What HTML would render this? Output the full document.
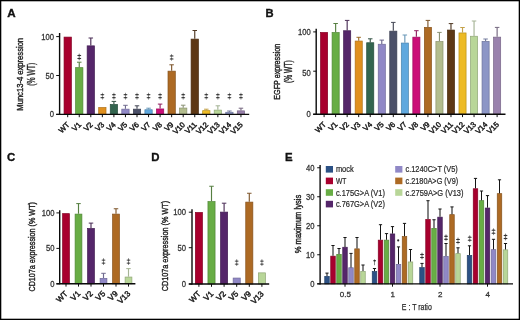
<!DOCTYPE html>
<html><head><meta charset="utf-8"><style>
html,body{margin:0;padding:0;background:#fff;}
body{width:520px;height:320px;overflow:hidden;}
svg{display:block;font-family:"Liberation Sans", sans-serif;will-change:transform;}
</style></head><body>
<svg width="520" height="320" viewBox="0 0 520 320">
<rect x="0" y="0" width="520" height="320" fill="#fff"/>
<text x="7.20" y="16.50" font-size="11.6" text-anchor="start" font-weight="bold" fill="#111" stroke="#111" stroke-width="0.35">A</text>
<text x="0" y="0" font-size="9.8" text-anchor="middle" fill="#222" stroke="#222" stroke-width="0.4" textLength="72.80" lengthAdjust="spacingAndGlyphs" transform="translate(23.40,74.30) rotate(-90)">Munc13-4 expression</text>
<text x="0" y="0" font-size="10.4" text-anchor="middle" fill="#222" stroke="#222" stroke-width="0.4" textLength="23.00" lengthAdjust="spacingAndGlyphs" transform="translate(34.60,74.30) rotate(-90)">(% WT)</text>
<text x="54.10" y="39.60" font-size="8.6" text-anchor="end" font-weight="normal" fill="#333" textLength="12.75" lengthAdjust="spacingAndGlyphs" stroke="#333" stroke-width="0.28">100</text>
<line x1="56.20" y1="36.60" x2="59.60" y2="36.60" stroke="#111" stroke-width="1"/>
<text x="54.10" y="78.50" font-size="8.6" text-anchor="end" font-weight="normal" fill="#333" textLength="8.50" lengthAdjust="spacingAndGlyphs" stroke="#333" stroke-width="0.28">50</text>
<line x1="56.20" y1="75.50" x2="59.60" y2="75.50" stroke="#111" stroke-width="1"/>
<text x="54.10" y="117.40" font-size="8.6" text-anchor="end" font-weight="normal" fill="#333" textLength="4.25" lengthAdjust="spacingAndGlyphs" stroke="#333" stroke-width="0.28">0</text>
<line x1="56.20" y1="114.40" x2="59.60" y2="114.40" stroke="#111" stroke-width="1"/>
<rect x="64.05" y="37.10" width="7.30" height="77.30" fill="#A8002E" stroke="#830023" stroke-width="0.7"/>
<line x1="67.70" y1="114.40" x2="67.70" y2="117.20" stroke="#111" stroke-width="1"/>
<text x="0" y="0" font-size="7.6" text-anchor="end" fill="#222" stroke="#222" stroke-width="0.45" transform="translate(70.10,125.20) rotate(-45)">WT</text>
<rect x="75.60" y="67.65" width="7.30" height="46.75" fill="#68AD45" stroke="#518635" stroke-width="0.7"/>
<line x1="79.25" y1="62.20" x2="79.25" y2="67.30" stroke="#567f41" stroke-width="1.15"/>
<line x1="77.00" y1="62.20" x2="81.50" y2="62.20" stroke="#567f41" stroke-width="1.0"/>
<line x1="79.25" y1="114.40" x2="79.25" y2="117.20" stroke="#111" stroke-width="1"/>
<line x1="79.25" y1="53.60" x2="79.25" y2="60.40" stroke="#333333" stroke-width="0.7" opacity="0.8"/>
<ellipse cx="79.25" cy="55.50" rx="2.05" ry="0.65" fill="#333333"/>
<ellipse cx="79.25" cy="58.50" rx="2.05" ry="0.65" fill="#333333"/>
<text x="0" y="0" font-size="7.6" text-anchor="end" fill="#222" stroke="#222" stroke-width="0.45" transform="translate(81.65,125.20) rotate(-45)">V1</text>
<rect x="87.15" y="45.85" width="7.30" height="68.55" fill="#55266A" stroke="#421d52" stroke-width="0.7"/>
<line x1="90.80" y1="38.00" x2="90.80" y2="45.50" stroke="#4b2e57" stroke-width="1.15"/>
<line x1="88.55" y1="38.00" x2="93.05" y2="38.00" stroke="#4b2e57" stroke-width="1.0"/>
<line x1="90.80" y1="114.40" x2="90.80" y2="117.20" stroke="#111" stroke-width="1"/>
<text x="0" y="0" font-size="7.6" text-anchor="end" fill="#222" stroke="#222" stroke-width="0.45" transform="translate(93.20,125.20) rotate(-45)">V2</text>
<rect x="98.70" y="107.55" width="7.30" height="6.85" fill="#E0901E" stroke="#ae7017" stroke-width="0.7"/>
<line x1="102.35" y1="114.40" x2="102.35" y2="117.20" stroke="#111" stroke-width="1"/>
<line x1="102.35" y1="92.80" x2="102.35" y2="99.60" stroke="#333333" stroke-width="0.7" opacity="0.8"/>
<ellipse cx="102.35" cy="94.70" rx="2.05" ry="0.65" fill="#333333"/>
<ellipse cx="102.35" cy="97.70" rx="2.05" ry="0.65" fill="#333333"/>
<text x="0" y="0" font-size="7.6" text-anchor="end" fill="#222" stroke="#222" stroke-width="0.45" transform="translate(104.75,125.20) rotate(-45)">V3</text>
<rect x="110.25" y="104.45" width="7.30" height="9.95" fill="#33654F" stroke="#274e3d" stroke-width="0.7"/>
<line x1="113.90" y1="101.40" x2="113.90" y2="104.10" stroke="#365447" stroke-width="1.15"/>
<line x1="111.65" y1="101.40" x2="116.15" y2="101.40" stroke="#365447" stroke-width="1.0"/>
<line x1="113.90" y1="114.40" x2="113.90" y2="117.20" stroke="#111" stroke-width="1"/>
<line x1="113.90" y1="92.80" x2="113.90" y2="99.60" stroke="#333333" stroke-width="0.7" opacity="0.8"/>
<ellipse cx="113.90" cy="94.70" rx="2.05" ry="0.65" fill="#333333"/>
<ellipse cx="113.90" cy="97.70" rx="2.05" ry="0.65" fill="#333333"/>
<text x="0" y="0" font-size="7.6" text-anchor="end" fill="#222" stroke="#222" stroke-width="0.45" transform="translate(116.30,125.20) rotate(-45)">V4</text>
<rect x="121.80" y="109.15" width="7.30" height="5.25" fill="#9088C6" stroke="#706a9a" stroke-width="0.7"/>
<line x1="125.45" y1="105.30" x2="125.45" y2="108.80" stroke="#6e698e" stroke-width="1.15"/>
<line x1="123.20" y1="105.30" x2="127.70" y2="105.30" stroke="#6e698e" stroke-width="1.0"/>
<line x1="125.45" y1="114.40" x2="125.45" y2="117.20" stroke="#111" stroke-width="1"/>
<line x1="125.45" y1="92.80" x2="125.45" y2="99.60" stroke="#333333" stroke-width="0.7" opacity="0.8"/>
<ellipse cx="125.45" cy="94.70" rx="2.05" ry="0.65" fill="#333333"/>
<ellipse cx="125.45" cy="97.70" rx="2.05" ry="0.65" fill="#333333"/>
<text x="0" y="0" font-size="7.6" text-anchor="end" fill="#222" stroke="#222" stroke-width="0.45" transform="translate(127.85,125.20) rotate(-45)">V5</text>
<rect x="133.35" y="109.15" width="7.30" height="5.25" fill="#4B5068" stroke="#3a3e51" stroke-width="0.7"/>
<line x1="137.00" y1="105.80" x2="137.00" y2="108.80" stroke="#454856" stroke-width="1.15"/>
<line x1="134.75" y1="105.80" x2="139.25" y2="105.80" stroke="#454856" stroke-width="1.0"/>
<line x1="137.00" y1="114.40" x2="137.00" y2="117.20" stroke="#111" stroke-width="1"/>
<line x1="137.00" y1="92.80" x2="137.00" y2="99.60" stroke="#333333" stroke-width="0.7" opacity="0.8"/>
<ellipse cx="137.00" cy="94.70" rx="2.05" ry="0.65" fill="#333333"/>
<ellipse cx="137.00" cy="97.70" rx="2.05" ry="0.65" fill="#333333"/>
<text x="0" y="0" font-size="7.6" text-anchor="end" fill="#222" stroke="#222" stroke-width="0.45" transform="translate(139.40,125.20) rotate(-45)">V6</text>
<rect x="144.90" y="109.75" width="7.30" height="4.65" fill="#5FA8DE" stroke="#4a83ad" stroke-width="0.7"/>
<line x1="148.55" y1="108.20" x2="148.55" y2="109.40" stroke="#6A98B8" stroke-width="1.15"/>
<line x1="146.30" y1="108.20" x2="150.80" y2="108.20" stroke="#6A98B8" stroke-width="1.0"/>
<line x1="148.55" y1="114.40" x2="148.55" y2="117.20" stroke="#111" stroke-width="1"/>
<line x1="148.55" y1="92.80" x2="148.55" y2="99.60" stroke="#333333" stroke-width="0.7" opacity="0.8"/>
<ellipse cx="148.55" cy="94.70" rx="2.05" ry="0.65" fill="#333333"/>
<ellipse cx="148.55" cy="97.70" rx="2.05" ry="0.65" fill="#333333"/>
<text x="0" y="0" font-size="7.6" text-anchor="end" fill="#222" stroke="#222" stroke-width="0.45" transform="translate(150.95,125.20) rotate(-45)">V7</text>
<rect x="156.45" y="108.95" width="7.30" height="5.45" fill="#CB0E78" stroke="#9e0a5d" stroke-width="0.7"/>
<line x1="160.10" y1="104.10" x2="160.10" y2="108.60" stroke="#912060" stroke-width="1.15"/>
<line x1="157.85" y1="104.10" x2="162.35" y2="104.10" stroke="#912060" stroke-width="1.0"/>
<line x1="160.10" y1="114.40" x2="160.10" y2="117.20" stroke="#111" stroke-width="1"/>
<line x1="160.10" y1="92.80" x2="160.10" y2="99.60" stroke="#333333" stroke-width="0.7" opacity="0.8"/>
<ellipse cx="160.10" cy="94.70" rx="2.05" ry="0.65" fill="#333333"/>
<ellipse cx="160.10" cy="97.70" rx="2.05" ry="0.65" fill="#333333"/>
<text x="0" y="0" font-size="7.6" text-anchor="end" fill="#222" stroke="#222" stroke-width="0.45" transform="translate(162.50,125.20) rotate(-45)">V8</text>
<rect x="168.00" y="71.15" width="7.30" height="43.25" fill="#AD6A24" stroke="#86521c" stroke-width="0.7"/>
<line x1="171.65" y1="64.80" x2="171.65" y2="70.80" stroke="#7f572d" stroke-width="1.15"/>
<line x1="169.40" y1="64.80" x2="173.90" y2="64.80" stroke="#7f572d" stroke-width="1.0"/>
<line x1="171.65" y1="114.40" x2="171.65" y2="117.20" stroke="#111" stroke-width="1"/>
<line x1="171.65" y1="54.00" x2="171.65" y2="60.80" stroke="#333333" stroke-width="0.7" opacity="0.8"/>
<ellipse cx="171.65" cy="55.90" rx="2.05" ry="0.65" fill="#333333"/>
<ellipse cx="171.65" cy="58.90" rx="2.05" ry="0.65" fill="#333333"/>
<text x="0" y="0" font-size="7.6" text-anchor="end" fill="#222" stroke="#222" stroke-width="0.45" transform="translate(174.05,125.20) rotate(-45)">V9</text>
<rect x="179.55" y="108.05" width="7.30" height="6.35" fill="#B3BD8E" stroke="#8b936e" stroke-width="0.7"/>
<line x1="183.20" y1="105.20" x2="183.20" y2="107.70" stroke="#8A9276" stroke-width="1.15"/>
<line x1="180.95" y1="105.20" x2="185.45" y2="105.20" stroke="#8A9276" stroke-width="1.0"/>
<line x1="183.20" y1="114.40" x2="183.20" y2="117.20" stroke="#111" stroke-width="1"/>
<line x1="183.20" y1="92.80" x2="183.20" y2="99.60" stroke="#333333" stroke-width="0.7" opacity="0.8"/>
<ellipse cx="183.20" cy="94.70" rx="2.05" ry="0.65" fill="#333333"/>
<ellipse cx="183.20" cy="97.70" rx="2.05" ry="0.65" fill="#333333"/>
<text x="0" y="0" font-size="7.6" text-anchor="end" fill="#222" stroke="#222" stroke-width="0.45" transform="translate(185.60,125.20) rotate(-45)">V10</text>
<rect x="191.10" y="39.10" width="7.30" height="75.30" fill="#5E3815" stroke="#492b10" stroke-width="0.7"/>
<line x1="194.75" y1="30.50" x2="194.75" y2="38.75" stroke="#503924" stroke-width="1.15"/>
<line x1="192.50" y1="30.50" x2="197.00" y2="30.50" stroke="#503924" stroke-width="1.0"/>
<line x1="194.75" y1="114.40" x2="194.75" y2="117.20" stroke="#111" stroke-width="1"/>
<text x="0" y="0" font-size="7.6" text-anchor="end" fill="#222" stroke="#222" stroke-width="0.45" transform="translate(197.15,125.20) rotate(-45)">V11</text>
<rect x="202.65" y="110.65" width="7.30" height="3.75" fill="#EDBB25" stroke="#b8911c" stroke-width="0.7"/>
<line x1="206.30" y1="109.20" x2="206.30" y2="110.30" stroke="#C4A24A" stroke-width="1.15"/>
<line x1="204.05" y1="109.20" x2="208.55" y2="109.20" stroke="#C4A24A" stroke-width="1.0"/>
<line x1="206.30" y1="114.40" x2="206.30" y2="117.20" stroke="#111" stroke-width="1"/>
<line x1="206.30" y1="92.80" x2="206.30" y2="99.60" stroke="#333333" stroke-width="0.7" opacity="0.8"/>
<ellipse cx="206.30" cy="94.70" rx="2.05" ry="0.65" fill="#333333"/>
<ellipse cx="206.30" cy="97.70" rx="2.05" ry="0.65" fill="#333333"/>
<text x="0" y="0" font-size="7.6" text-anchor="end" fill="#222" stroke="#222" stroke-width="0.45" transform="translate(208.70,125.20) rotate(-45)">V12</text>
<rect x="214.20" y="110.10" width="7.30" height="4.30" fill="#B8D698" stroke="#8fa676" stroke-width="0.7"/>
<line x1="217.85" y1="105.80" x2="217.85" y2="109.75" stroke="#A6B496" stroke-width="1.15"/>
<line x1="215.60" y1="105.80" x2="220.10" y2="105.80" stroke="#A6B496" stroke-width="1.0"/>
<line x1="217.85" y1="114.40" x2="217.85" y2="117.20" stroke="#111" stroke-width="1"/>
<line x1="217.85" y1="92.80" x2="217.85" y2="99.60" stroke="#333333" stroke-width="0.7" opacity="0.8"/>
<ellipse cx="217.85" cy="94.70" rx="2.05" ry="0.65" fill="#333333"/>
<ellipse cx="217.85" cy="97.70" rx="2.05" ry="0.65" fill="#333333"/>
<text x="0" y="0" font-size="7.6" text-anchor="end" fill="#222" stroke="#222" stroke-width="0.45" transform="translate(220.25,125.20) rotate(-45)">V13</text>
<rect x="225.75" y="112.25" width="7.30" height="2.15" fill="#8C96C6" stroke="#6d759a" stroke-width="0.7"/>
<line x1="229.40" y1="111.00" x2="229.40" y2="111.90" stroke="#747C9E" stroke-width="1.15"/>
<line x1="227.15" y1="111.00" x2="231.65" y2="111.00" stroke="#747C9E" stroke-width="1.0"/>
<line x1="229.40" y1="114.40" x2="229.40" y2="117.20" stroke="#111" stroke-width="1"/>
<line x1="229.40" y1="92.80" x2="229.40" y2="99.60" stroke="#333333" stroke-width="0.7" opacity="0.8"/>
<ellipse cx="229.40" cy="94.70" rx="2.05" ry="0.65" fill="#333333"/>
<ellipse cx="229.40" cy="97.70" rx="2.05" ry="0.65" fill="#333333"/>
<text x="0" y="0" font-size="7.6" text-anchor="end" fill="#222" stroke="#222" stroke-width="0.45" transform="translate(231.80,125.20) rotate(-45)">V14</text>
<rect x="237.30" y="110.85" width="7.30" height="3.55" fill="#9A82AD" stroke="#786586" stroke-width="0.7"/>
<line x1="240.95" y1="108.20" x2="240.95" y2="110.50" stroke="#74667f" stroke-width="1.15"/>
<line x1="238.70" y1="108.20" x2="243.20" y2="108.20" stroke="#74667f" stroke-width="1.0"/>
<line x1="240.95" y1="114.40" x2="240.95" y2="117.20" stroke="#111" stroke-width="1"/>
<line x1="240.95" y1="92.80" x2="240.95" y2="99.60" stroke="#333333" stroke-width="0.7" opacity="0.8"/>
<ellipse cx="240.95" cy="94.70" rx="2.05" ry="0.65" fill="#333333"/>
<ellipse cx="240.95" cy="97.70" rx="2.05" ry="0.65" fill="#333333"/>
<text x="0" y="0" font-size="7.6" text-anchor="end" fill="#222" stroke="#222" stroke-width="0.45" transform="translate(243.35,125.20) rotate(-45)">V15</text>
<text x="265.50" y="16.60" font-size="11.2" text-anchor="start" font-weight="bold" fill="#111" stroke="#111" stroke-width="0.35">B</text>
<text x="0" y="0" font-size="9.6" text-anchor="middle" fill="#222" stroke="#222" stroke-width="0.4" textLength="56.00" lengthAdjust="spacingAndGlyphs" transform="translate(279.80,71.70) rotate(-90)">EGFP expression</text>
<text x="0" y="0" font-size="10.2" text-anchor="middle" fill="#222" stroke="#222" stroke-width="0.4" textLength="22.60" lengthAdjust="spacingAndGlyphs" transform="translate(291.80,71.60) rotate(-90)">(% WT)</text>
<text x="310.70" y="34.90" font-size="8.6" text-anchor="end" font-weight="normal" fill="#333" textLength="12.75" lengthAdjust="spacingAndGlyphs" stroke="#333" stroke-width="0.28">100</text>
<line x1="313.20" y1="31.90" x2="316.20" y2="31.90" stroke="#111" stroke-width="1"/>
<text x="310.70" y="76.00" font-size="8.6" text-anchor="end" font-weight="normal" fill="#333" textLength="8.50" lengthAdjust="spacingAndGlyphs" stroke="#333" stroke-width="0.28">50</text>
<line x1="313.20" y1="71.20" x2="316.20" y2="71.20" stroke="#111" stroke-width="1"/>
<text x="310.70" y="117.00" font-size="8.6" text-anchor="end" font-weight="normal" fill="#333" textLength="4.25" lengthAdjust="spacingAndGlyphs" stroke="#333" stroke-width="0.28">0</text>
<line x1="313.20" y1="114.30" x2="316.20" y2="114.30" stroke="#111" stroke-width="1"/>
<rect x="320.55" y="32.45" width="7.10" height="81.85" fill="#A8002E" stroke="#830023" stroke-width="0.7"/>
<line x1="324.10" y1="114.30" x2="324.10" y2="117.10" stroke="#111" stroke-width="1"/>
<text x="0" y="0" font-size="7.6" text-anchor="end" fill="#222" stroke="#222" stroke-width="0.45" transform="translate(326.50,125.00) rotate(-45)">WT</text>
<rect x="332.09" y="32.55" width="7.10" height="81.75" fill="#68AD45" stroke="#518635" stroke-width="0.7"/>
<line x1="335.63" y1="23.50" x2="335.63" y2="32.20" stroke="#567f41" stroke-width="1.15"/>
<line x1="333.38" y1="23.50" x2="337.88" y2="23.50" stroke="#567f41" stroke-width="1.0"/>
<line x1="335.63" y1="114.30" x2="335.63" y2="117.10" stroke="#111" stroke-width="1"/>
<text x="0" y="0" font-size="7.6" text-anchor="end" fill="#222" stroke="#222" stroke-width="0.45" transform="translate(338.03,125.00) rotate(-45)">V1</text>
<rect x="343.62" y="30.75" width="7.10" height="83.55" fill="#55266A" stroke="#421d52" stroke-width="0.7"/>
<line x1="347.17" y1="20.40" x2="347.17" y2="30.40" stroke="#4b2e57" stroke-width="1.15"/>
<line x1="344.92" y1="20.40" x2="349.42" y2="20.40" stroke="#4b2e57" stroke-width="1.0"/>
<line x1="347.17" y1="114.30" x2="347.17" y2="117.10" stroke="#111" stroke-width="1"/>
<text x="0" y="0" font-size="7.6" text-anchor="end" fill="#222" stroke="#222" stroke-width="0.45" transform="translate(349.57,125.00) rotate(-45)">V2</text>
<rect x="355.16" y="41.05" width="7.10" height="73.25" fill="#E0901E" stroke="#ae7017" stroke-width="0.7"/>
<line x1="358.70" y1="37.30" x2="358.70" y2="40.70" stroke="#9e6e2a" stroke-width="1.15"/>
<line x1="356.45" y1="37.30" x2="360.95" y2="37.30" stroke="#9e6e2a" stroke-width="1.0"/>
<line x1="358.70" y1="114.30" x2="358.70" y2="117.10" stroke="#111" stroke-width="1"/>
<text x="0" y="0" font-size="7.6" text-anchor="end" fill="#222" stroke="#222" stroke-width="0.45" transform="translate(361.10,125.00) rotate(-45)">V3</text>
<rect x="366.69" y="42.75" width="7.10" height="71.55" fill="#33654F" stroke="#274e3d" stroke-width="0.7"/>
<line x1="370.24" y1="38.80" x2="370.24" y2="42.40" stroke="#365447" stroke-width="1.15"/>
<line x1="367.99" y1="38.80" x2="372.49" y2="38.80" stroke="#365447" stroke-width="1.0"/>
<line x1="370.24" y1="114.30" x2="370.24" y2="117.10" stroke="#111" stroke-width="1"/>
<text x="0" y="0" font-size="7.6" text-anchor="end" fill="#222" stroke="#222" stroke-width="0.45" transform="translate(372.64,125.00) rotate(-45)">V4</text>
<rect x="378.23" y="44.25" width="7.10" height="70.05" fill="#9088C6" stroke="#706a9a" stroke-width="0.7"/>
<line x1="381.77" y1="40.10" x2="381.77" y2="43.90" stroke="#6e698e" stroke-width="1.15"/>
<line x1="379.52" y1="40.10" x2="384.02" y2="40.10" stroke="#6e698e" stroke-width="1.0"/>
<line x1="381.77" y1="114.30" x2="381.77" y2="117.10" stroke="#111" stroke-width="1"/>
<text x="0" y="0" font-size="7.6" text-anchor="end" fill="#222" stroke="#222" stroke-width="0.45" transform="translate(384.17,125.00) rotate(-45)">V5</text>
<rect x="389.76" y="31.15" width="7.10" height="83.15" fill="#4B5068" stroke="#3a3e51" stroke-width="0.7"/>
<line x1="393.31" y1="22.40" x2="393.31" y2="30.80" stroke="#454856" stroke-width="1.15"/>
<line x1="391.06" y1="22.40" x2="395.56" y2="22.40" stroke="#454856" stroke-width="1.0"/>
<line x1="393.31" y1="114.30" x2="393.31" y2="117.10" stroke="#111" stroke-width="1"/>
<text x="0" y="0" font-size="7.6" text-anchor="end" fill="#222" stroke="#222" stroke-width="0.45" transform="translate(395.71,125.00) rotate(-45)">V6</text>
<rect x="401.30" y="43.05" width="7.10" height="71.25" fill="#5FA8DE" stroke="#4a83ad" stroke-width="0.7"/>
<line x1="404.84" y1="35.00" x2="404.84" y2="42.70" stroke="#6A98B8" stroke-width="1.15"/>
<line x1="402.59" y1="35.00" x2="407.09" y2="35.00" stroke="#6A98B8" stroke-width="1.0"/>
<line x1="404.84" y1="114.30" x2="404.84" y2="117.10" stroke="#111" stroke-width="1"/>
<text x="0" y="0" font-size="7.6" text-anchor="end" fill="#222" stroke="#222" stroke-width="0.45" transform="translate(407.24,125.00) rotate(-45)">V7</text>
<rect x="412.83" y="37.15" width="7.10" height="77.15" fill="#CB0E78" stroke="#9e0a5d" stroke-width="0.7"/>
<line x1="416.38" y1="30.70" x2="416.38" y2="36.80" stroke="#912060" stroke-width="1.15"/>
<line x1="414.13" y1="30.70" x2="418.63" y2="30.70" stroke="#912060" stroke-width="1.0"/>
<line x1="416.38" y1="114.30" x2="416.38" y2="117.10" stroke="#111" stroke-width="1"/>
<text x="0" y="0" font-size="7.6" text-anchor="end" fill="#222" stroke="#222" stroke-width="0.45" transform="translate(418.78,125.00) rotate(-45)">V8</text>
<rect x="424.37" y="27.35" width="7.10" height="86.95" fill="#AD6A24" stroke="#86521c" stroke-width="0.7"/>
<line x1="427.91" y1="20.40" x2="427.91" y2="27.00" stroke="#7f572d" stroke-width="1.15"/>
<line x1="425.66" y1="20.40" x2="430.16" y2="20.40" stroke="#7f572d" stroke-width="1.0"/>
<line x1="427.91" y1="114.30" x2="427.91" y2="117.10" stroke="#111" stroke-width="1"/>
<text x="0" y="0" font-size="7.6" text-anchor="end" fill="#222" stroke="#222" stroke-width="0.45" transform="translate(430.31,125.00) rotate(-45)">V9</text>
<rect x="435.90" y="41.55" width="7.10" height="72.75" fill="#B3BD8E" stroke="#8b936e" stroke-width="0.7"/>
<line x1="439.45" y1="32.40" x2="439.45" y2="41.20" stroke="#8A9276" stroke-width="1.15"/>
<line x1="437.20" y1="32.40" x2="441.70" y2="32.40" stroke="#8A9276" stroke-width="1.0"/>
<line x1="439.45" y1="114.30" x2="439.45" y2="117.10" stroke="#111" stroke-width="1"/>
<text x="0" y="0" font-size="7.6" text-anchor="end" fill="#222" stroke="#222" stroke-width="0.45" transform="translate(441.85,125.00) rotate(-45)">V10</text>
<rect x="447.44" y="30.05" width="7.10" height="84.25" fill="#5E3815" stroke="#492b10" stroke-width="0.7"/>
<line x1="450.98" y1="23.60" x2="450.98" y2="29.70" stroke="#503924" stroke-width="1.15"/>
<line x1="448.73" y1="23.60" x2="453.23" y2="23.60" stroke="#503924" stroke-width="1.0"/>
<line x1="450.98" y1="114.30" x2="450.98" y2="117.10" stroke="#111" stroke-width="1"/>
<text x="0" y="0" font-size="7.6" text-anchor="end" fill="#222" stroke="#222" stroke-width="0.45" transform="translate(453.38,125.00) rotate(-45)">V11</text>
<rect x="458.97" y="32.95" width="7.10" height="81.35" fill="#EDBB25" stroke="#b8911c" stroke-width="0.7"/>
<line x1="462.52" y1="27.50" x2="462.52" y2="32.60" stroke="#C4A24A" stroke-width="1.15"/>
<line x1="460.27" y1="27.50" x2="464.77" y2="27.50" stroke="#C4A24A" stroke-width="1.0"/>
<line x1="462.52" y1="114.30" x2="462.52" y2="117.10" stroke="#111" stroke-width="1"/>
<text x="0" y="0" font-size="7.6" text-anchor="end" fill="#222" stroke="#222" stroke-width="0.45" transform="translate(464.92,125.00) rotate(-45)">V12</text>
<rect x="470.50" y="36.25" width="7.10" height="78.05" fill="#B8D698" stroke="#8fa676" stroke-width="0.7"/>
<line x1="474.05" y1="21.00" x2="474.05" y2="35.90" stroke="#A6B496" stroke-width="1.15"/>
<line x1="471.80" y1="21.00" x2="476.30" y2="21.00" stroke="#A6B496" stroke-width="1.0"/>
<line x1="474.05" y1="114.30" x2="474.05" y2="117.10" stroke="#111" stroke-width="1"/>
<text x="0" y="0" font-size="7.6" text-anchor="end" fill="#222" stroke="#222" stroke-width="0.45" transform="translate(476.45,125.00) rotate(-45)">V13</text>
<rect x="482.04" y="41.35" width="7.10" height="72.95" fill="#8C96C6" stroke="#6d759a" stroke-width="0.7"/>
<line x1="485.59" y1="39.00" x2="485.59" y2="41.00" stroke="#747C9E" stroke-width="1.15"/>
<line x1="483.34" y1="39.00" x2="487.84" y2="39.00" stroke="#747C9E" stroke-width="1.0"/>
<line x1="485.59" y1="114.30" x2="485.59" y2="117.10" stroke="#111" stroke-width="1"/>
<text x="0" y="0" font-size="7.6" text-anchor="end" fill="#222" stroke="#222" stroke-width="0.45" transform="translate(487.99,125.00) rotate(-45)">V14</text>
<rect x="493.58" y="37.15" width="7.10" height="77.15" fill="#9A82AD" stroke="#786586" stroke-width="0.7"/>
<line x1="497.12" y1="27.40" x2="497.12" y2="36.80" stroke="#74667f" stroke-width="1.15"/>
<line x1="494.88" y1="27.40" x2="499.38" y2="27.40" stroke="#74667f" stroke-width="1.0"/>
<line x1="497.12" y1="114.30" x2="497.12" y2="117.10" stroke="#111" stroke-width="1"/>
<text x="0" y="0" font-size="7.6" text-anchor="end" fill="#222" stroke="#222" stroke-width="0.45" transform="translate(499.52,125.00) rotate(-45)">V15</text>
<text x="7.00" y="160.60" font-size="11.4" text-anchor="start" font-weight="bold" fill="#111" stroke="#111" stroke-width="0.35">C</text>
<text x="0" y="0" font-size="9.8" text-anchor="middle" fill="#222" stroke="#222" stroke-width="0.4" textLength="89.50" lengthAdjust="spacingAndGlyphs" transform="translate(35.00,246.80) rotate(-90)">CD107a expression (% WT)</text>
<text x="54.60" y="215.90" font-size="8.6" text-anchor="end" font-weight="normal" fill="#333" textLength="12.75" lengthAdjust="spacingAndGlyphs" stroke="#333" stroke-width="0.28">100</text>
<line x1="56.40" y1="212.90" x2="59.70" y2="212.90" stroke="#111" stroke-width="1"/>
<text x="54.60" y="251.40" font-size="8.6" text-anchor="end" font-weight="normal" fill="#333" textLength="8.50" lengthAdjust="spacingAndGlyphs" stroke="#333" stroke-width="0.28">50</text>
<line x1="56.40" y1="248.40" x2="59.70" y2="248.40" stroke="#111" stroke-width="1"/>
<text x="54.60" y="286.80" font-size="8.6" text-anchor="end" font-weight="normal" fill="#333" textLength="4.25" lengthAdjust="spacingAndGlyphs" stroke="#333" stroke-width="0.28">0</text>
<line x1="56.40" y1="283.80" x2="59.70" y2="283.80" stroke="#111" stroke-width="1"/>
<rect x="62.60" y="213.65" width="6.80" height="70.15" fill="#A8002E" stroke="#830023" stroke-width="0.7"/>
<line x1="66.00" y1="283.80" x2="66.00" y2="286.60" stroke="#111" stroke-width="1"/>
<text x="0" y="0" font-size="8.0" text-anchor="end" fill="#222" stroke="#222" stroke-width="0.45" transform="translate(68.30,294.20) rotate(-45)">WT</text>
<rect x="75.10" y="214.10" width="6.80" height="69.70" fill="#68AD45" stroke="#518635" stroke-width="0.7"/>
<line x1="78.50" y1="203.60" x2="78.50" y2="213.75" stroke="#567f41" stroke-width="1.15"/>
<line x1="76.25" y1="203.60" x2="80.75" y2="203.60" stroke="#567f41" stroke-width="1.0"/>
<line x1="78.50" y1="283.80" x2="78.50" y2="286.60" stroke="#111" stroke-width="1"/>
<text x="0" y="0" font-size="8.0" text-anchor="end" fill="#222" stroke="#222" stroke-width="0.45" transform="translate(80.80,294.20) rotate(-45)">V1</text>
<rect x="87.60" y="228.45" width="6.80" height="55.35" fill="#55266A" stroke="#421d52" stroke-width="0.7"/>
<line x1="91.00" y1="223.10" x2="91.00" y2="228.10" stroke="#4b2e57" stroke-width="1.15"/>
<line x1="88.75" y1="223.10" x2="93.25" y2="223.10" stroke="#4b2e57" stroke-width="1.0"/>
<line x1="91.00" y1="283.80" x2="91.00" y2="286.60" stroke="#111" stroke-width="1"/>
<text x="0" y="0" font-size="8.0" text-anchor="end" fill="#222" stroke="#222" stroke-width="0.45" transform="translate(93.30,294.20) rotate(-45)">V2</text>
<rect x="100.10" y="278.35" width="6.80" height="5.45" fill="#9088C6" stroke="#706a9a" stroke-width="0.7"/>
<line x1="103.50" y1="273.30" x2="103.50" y2="278.00" stroke="#6e698e" stroke-width="1.15"/>
<line x1="101.25" y1="273.30" x2="105.75" y2="273.30" stroke="#6e698e" stroke-width="1.0"/>
<line x1="103.50" y1="283.80" x2="103.50" y2="286.60" stroke="#111" stroke-width="1"/>
<line x1="103.50" y1="258.20" x2="103.50" y2="265.00" stroke="#333333" stroke-width="0.7" opacity="0.8"/>
<ellipse cx="103.50" cy="260.10" rx="2.05" ry="0.65" fill="#333333"/>
<ellipse cx="103.50" cy="263.10" rx="2.05" ry="0.65" fill="#333333"/>
<text x="0" y="0" font-size="8.0" text-anchor="end" fill="#222" stroke="#222" stroke-width="0.45" transform="translate(105.80,294.20) rotate(-45)">V5</text>
<rect x="112.60" y="214.10" width="6.80" height="69.70" fill="#AD6A24" stroke="#86521c" stroke-width="0.7"/>
<line x1="116.00" y1="208.75" x2="116.00" y2="213.75" stroke="#7f572d" stroke-width="1.15"/>
<line x1="113.75" y1="208.75" x2="118.25" y2="208.75" stroke="#7f572d" stroke-width="1.0"/>
<line x1="116.00" y1="283.80" x2="116.00" y2="286.60" stroke="#111" stroke-width="1"/>
<text x="0" y="0" font-size="8.0" text-anchor="end" fill="#222" stroke="#222" stroke-width="0.45" transform="translate(118.30,294.20) rotate(-45)">V9</text>
<rect x="125.10" y="277.05" width="6.80" height="6.75" fill="#B8D698" stroke="#8fa676" stroke-width="0.7"/>
<line x1="128.50" y1="268.60" x2="128.50" y2="276.70" stroke="#A6B496" stroke-width="1.15"/>
<line x1="126.25" y1="268.60" x2="130.75" y2="268.60" stroke="#A6B496" stroke-width="1.0"/>
<line x1="128.50" y1="283.80" x2="128.50" y2="286.60" stroke="#111" stroke-width="1"/>
<line x1="128.50" y1="258.20" x2="128.50" y2="265.00" stroke="#333333" stroke-width="0.7" opacity="0.8"/>
<ellipse cx="128.50" cy="260.10" rx="2.05" ry="0.65" fill="#333333"/>
<ellipse cx="128.50" cy="263.10" rx="2.05" ry="0.65" fill="#333333"/>
<text x="0" y="0" font-size="8.0" text-anchor="end" fill="#222" stroke="#222" stroke-width="0.45" transform="translate(130.80,294.20) rotate(-45)">V13</text>
<text x="151.20" y="160.90" font-size="11.4" text-anchor="start" font-weight="bold" fill="#111" stroke="#111" stroke-width="0.35">D</text>
<text x="0" y="0" font-size="9.8" text-anchor="middle" fill="#222" stroke="#222" stroke-width="0.4" textLength="90.50" lengthAdjust="spacingAndGlyphs" transform="translate(168.20,246.10) rotate(-90)">CD107a expression (% WT)</text>
<text x="186.10" y="215.20" font-size="8.6" text-anchor="end" font-weight="normal" fill="#333" textLength="12.75" lengthAdjust="spacingAndGlyphs" stroke="#333" stroke-width="0.28">100</text>
<line x1="188.80" y1="212.20" x2="192.00" y2="212.20" stroke="#111" stroke-width="1"/>
<text x="186.10" y="250.70" font-size="8.6" text-anchor="end" font-weight="normal" fill="#333" textLength="8.50" lengthAdjust="spacingAndGlyphs" stroke="#333" stroke-width="0.28">50</text>
<line x1="188.80" y1="247.70" x2="192.00" y2="247.70" stroke="#111" stroke-width="1"/>
<text x="186.10" y="287.00" font-size="8.6" text-anchor="end" font-weight="normal" fill="#333" textLength="4.25" lengthAdjust="spacingAndGlyphs" stroke="#333" stroke-width="0.28">0</text>
<line x1="188.80" y1="284.00" x2="192.00" y2="284.00" stroke="#111" stroke-width="1"/>
<rect x="195.35" y="212.45" width="7.10" height="71.55" fill="#A8002E" stroke="#830023" stroke-width="0.7"/>
<line x1="198.90" y1="284.00" x2="198.90" y2="286.80" stroke="#111" stroke-width="1"/>
<text x="0" y="0" font-size="8.0" text-anchor="end" fill="#222" stroke="#222" stroke-width="0.45" transform="translate(201.20,294.40) rotate(-45)">WT</text>
<rect x="207.95" y="201.60" width="7.10" height="82.40" fill="#68AD45" stroke="#518635" stroke-width="0.7"/>
<line x1="211.50" y1="186.25" x2="211.50" y2="201.25" stroke="#567f41" stroke-width="1.15"/>
<line x1="209.25" y1="186.25" x2="213.75" y2="186.25" stroke="#567f41" stroke-width="1.0"/>
<line x1="211.50" y1="284.00" x2="211.50" y2="286.80" stroke="#111" stroke-width="1"/>
<text x="0" y="0" font-size="8.0" text-anchor="end" fill="#222" stroke="#222" stroke-width="0.45" transform="translate(213.80,294.40) rotate(-45)">V1</text>
<rect x="220.55" y="212.10" width="7.10" height="71.90" fill="#55266A" stroke="#421d52" stroke-width="0.7"/>
<line x1="224.10" y1="203.20" x2="224.10" y2="211.75" stroke="#4b2e57" stroke-width="1.15"/>
<line x1="221.85" y1="203.20" x2="226.35" y2="203.20" stroke="#4b2e57" stroke-width="1.0"/>
<line x1="224.10" y1="284.00" x2="224.10" y2="286.80" stroke="#111" stroke-width="1"/>
<text x="0" y="0" font-size="8.0" text-anchor="end" fill="#222" stroke="#222" stroke-width="0.45" transform="translate(226.40,294.40) rotate(-45)">V2</text>
<rect x="233.15" y="278.05" width="7.10" height="5.95" fill="#9088C6" stroke="#706a9a" stroke-width="0.7"/>
<line x1="236.70" y1="284.00" x2="236.70" y2="286.80" stroke="#111" stroke-width="1"/>
<line x1="236.70" y1="259.20" x2="236.70" y2="266.00" stroke="#333333" stroke-width="0.7" opacity="0.8"/>
<ellipse cx="236.70" cy="261.10" rx="2.05" ry="0.65" fill="#333333"/>
<ellipse cx="236.70" cy="264.10" rx="2.05" ry="0.65" fill="#333333"/>
<text x="0" y="0" font-size="8.0" text-anchor="end" fill="#222" stroke="#222" stroke-width="0.45" transform="translate(239.00,294.40) rotate(-45)">V5</text>
<rect x="245.75" y="202.10" width="7.10" height="81.90" fill="#AD6A24" stroke="#86521c" stroke-width="0.7"/>
<line x1="249.30" y1="193.25" x2="249.30" y2="201.75" stroke="#7f572d" stroke-width="1.15"/>
<line x1="247.05" y1="193.25" x2="251.55" y2="193.25" stroke="#7f572d" stroke-width="1.0"/>
<line x1="249.30" y1="284.00" x2="249.30" y2="286.80" stroke="#111" stroke-width="1"/>
<text x="0" y="0" font-size="8.0" text-anchor="end" fill="#222" stroke="#222" stroke-width="0.45" transform="translate(251.60,294.40) rotate(-45)">V9</text>
<rect x="258.35" y="272.85" width="7.10" height="11.15" fill="#B8D698" stroke="#8fa676" stroke-width="0.7"/>
<line x1="261.90" y1="284.00" x2="261.90" y2="286.80" stroke="#111" stroke-width="1"/>
<line x1="261.90" y1="259.20" x2="261.90" y2="266.00" stroke="#333333" stroke-width="0.7" opacity="0.8"/>
<ellipse cx="261.90" cy="261.10" rx="2.05" ry="0.65" fill="#333333"/>
<ellipse cx="261.90" cy="264.10" rx="2.05" ry="0.65" fill="#333333"/>
<text x="0" y="0" font-size="8.0" text-anchor="end" fill="#222" stroke="#222" stroke-width="0.45" transform="translate(264.20,294.40) rotate(-45)">V13</text>
<text x="285.10" y="160.70" font-size="11.4" text-anchor="start" font-weight="bold" fill="#111" stroke="#111" stroke-width="0.35">E</text>
<text x="0" y="0" font-size="9.2" text-anchor="middle" fill="#222" stroke="#222" stroke-width="0.4" textLength="58.50" lengthAdjust="spacingAndGlyphs" transform="translate(300.60,224.00) rotate(-90)">% maximum lysis</text>
<text x="314.40" y="286.75" font-size="8.6" text-anchor="end" font-weight="normal" fill="#333" textLength="4.25" lengthAdjust="spacingAndGlyphs" stroke="#333" stroke-width="0.28">0</text>
<line x1="317.20" y1="283.75" x2="320.10" y2="283.75" stroke="#111" stroke-width="1"/>
<text x="314.40" y="257.75" font-size="8.6" text-anchor="end" font-weight="normal" fill="#333" textLength="8.50" lengthAdjust="spacingAndGlyphs" stroke="#333" stroke-width="0.28">10</text>
<line x1="317.20" y1="254.75" x2="320.10" y2="254.75" stroke="#111" stroke-width="1"/>
<text x="314.40" y="228.75" font-size="8.6" text-anchor="end" font-weight="normal" fill="#333" textLength="8.50" lengthAdjust="spacingAndGlyphs" stroke="#333" stroke-width="0.28">20</text>
<line x1="317.20" y1="225.75" x2="320.10" y2="225.75" stroke="#111" stroke-width="1"/>
<text x="314.40" y="199.75" font-size="8.6" text-anchor="end" font-weight="normal" fill="#333" textLength="8.50" lengthAdjust="spacingAndGlyphs" stroke="#333" stroke-width="0.28">30</text>
<line x1="317.20" y1="196.75" x2="320.10" y2="196.75" stroke="#111" stroke-width="1"/>
<text x="314.40" y="170.75" font-size="8.6" text-anchor="end" font-weight="normal" fill="#333" textLength="8.50" lengthAdjust="spacingAndGlyphs" stroke="#333" stroke-width="0.28">40</text>
<line x1="317.20" y1="167.75" x2="320.10" y2="167.75" stroke="#111" stroke-width="1"/>
<rect x="324.75" y="276.35" width="4.50" height="7.55" fill="#2C5185" stroke="#223f67" stroke-width="0.7"/>
<line x1="327.00" y1="273.10" x2="327.00" y2="276.00" stroke="#151515" stroke-width="1.05"/>
<line x1="325.40" y1="273.10" x2="328.60" y2="273.10" stroke="#151515" stroke-width="1.0"/>
<rect x="330.75" y="256.15" width="4.50" height="27.75" fill="#A8002E" stroke="#830023" stroke-width="0.7"/>
<line x1="333.00" y1="245.50" x2="333.00" y2="255.80" stroke="#151515" stroke-width="1.05"/>
<line x1="331.40" y1="245.50" x2="334.60" y2="245.50" stroke="#151515" stroke-width="1.0"/>
<rect x="336.75" y="254.35" width="4.50" height="29.55" fill="#68AD45" stroke="#518635" stroke-width="0.7"/>
<line x1="339.00" y1="248.50" x2="339.00" y2="254.00" stroke="#151515" stroke-width="1.05"/>
<line x1="337.40" y1="248.50" x2="340.60" y2="248.50" stroke="#151515" stroke-width="1.0"/>
<rect x="342.75" y="247.25" width="4.50" height="36.65" fill="#55266A" stroke="#421d52" stroke-width="0.7"/>
<line x1="345.00" y1="237.50" x2="345.00" y2="246.90" stroke="#151515" stroke-width="1.05"/>
<line x1="343.40" y1="237.50" x2="346.60" y2="237.50" stroke="#151515" stroke-width="1.0"/>
<rect x="348.75" y="267.75" width="4.50" height="16.15" fill="#9088C6" stroke="#706a9a" stroke-width="0.7"/>
<line x1="351.00" y1="253.40" x2="351.00" y2="267.40" stroke="#151515" stroke-width="1.05"/>
<line x1="349.40" y1="253.40" x2="352.60" y2="253.40" stroke="#151515" stroke-width="1.0"/>
<rect x="354.75" y="248.85" width="4.50" height="35.05" fill="#AD6A24" stroke="#86521c" stroke-width="0.7"/>
<line x1="357.00" y1="237.50" x2="357.00" y2="248.50" stroke="#151515" stroke-width="1.05"/>
<line x1="355.40" y1="237.50" x2="358.60" y2="237.50" stroke="#151515" stroke-width="1.0"/>
<rect x="360.75" y="271.35" width="4.50" height="12.55" fill="#B8D698" stroke="#8fa676" stroke-width="0.7"/>
<line x1="363.00" y1="265.00" x2="363.00" y2="271.00" stroke="#151515" stroke-width="1.05"/>
<line x1="361.40" y1="265.00" x2="364.60" y2="265.00" stroke="#151515" stroke-width="1.0"/>
<line x1="345.00" y1="283.90" x2="345.00" y2="286.70" stroke="#111" stroke-width="1"/>
<text x="345.30" y="297.30" font-size="8.0" text-anchor="middle" font-weight="normal" fill="#333" stroke="#333" stroke-width="0.28">0.5</text>
<rect x="372.25" y="271.55" width="4.50" height="12.35" fill="#2C5185" stroke="#223f67" stroke-width="0.7"/>
<line x1="374.50" y1="268.50" x2="374.50" y2="271.20" stroke="#151515" stroke-width="1.05"/>
<line x1="372.90" y1="268.50" x2="376.10" y2="268.50" stroke="#151515" stroke-width="1.0"/>
<rect x="378.25" y="240.15" width="4.50" height="43.75" fill="#A8002E" stroke="#830023" stroke-width="0.7"/>
<line x1="380.50" y1="224.70" x2="380.50" y2="239.80" stroke="#151515" stroke-width="1.05"/>
<line x1="378.90" y1="224.70" x2="382.10" y2="224.70" stroke="#151515" stroke-width="1.0"/>
<rect x="384.25" y="240.15" width="4.50" height="43.75" fill="#68AD45" stroke="#518635" stroke-width="0.7"/>
<line x1="386.50" y1="233.60" x2="386.50" y2="239.80" stroke="#151515" stroke-width="1.05"/>
<line x1="384.90" y1="233.60" x2="388.10" y2="233.60" stroke="#151515" stroke-width="1.0"/>
<rect x="390.25" y="233.95" width="4.50" height="49.95" fill="#55266A" stroke="#421d52" stroke-width="0.7"/>
<line x1="392.50" y1="226.60" x2="392.50" y2="233.60" stroke="#151515" stroke-width="1.05"/>
<line x1="390.90" y1="226.60" x2="394.10" y2="226.60" stroke="#151515" stroke-width="1.0"/>
<rect x="396.25" y="264.35" width="4.50" height="19.55" fill="#9088C6" stroke="#706a9a" stroke-width="0.7"/>
<line x1="398.50" y1="246.90" x2="398.50" y2="264.00" stroke="#151515" stroke-width="1.05"/>
<line x1="396.90" y1="246.90" x2="400.10" y2="246.90" stroke="#151515" stroke-width="1.0"/>
<rect x="402.25" y="236.55" width="4.50" height="47.35" fill="#AD6A24" stroke="#86521c" stroke-width="0.7"/>
<line x1="404.50" y1="223.40" x2="404.50" y2="236.20" stroke="#151515" stroke-width="1.05"/>
<line x1="402.90" y1="223.40" x2="406.10" y2="223.40" stroke="#151515" stroke-width="1.0"/>
<rect x="408.25" y="261.95" width="4.50" height="21.95" fill="#B8D698" stroke="#8fa676" stroke-width="0.7"/>
<line x1="410.50" y1="249.50" x2="410.50" y2="261.60" stroke="#151515" stroke-width="1.05"/>
<line x1="408.90" y1="249.50" x2="412.10" y2="249.50" stroke="#151515" stroke-width="1.0"/>
<line x1="392.50" y1="283.90" x2="392.50" y2="286.70" stroke="#111" stroke-width="1"/>
<text x="392.80" y="297.30" font-size="8.0" text-anchor="middle" font-weight="normal" fill="#333" stroke="#333" stroke-width="0.28">1</text>
<rect x="419.75" y="267.65" width="4.50" height="16.25" fill="#2C5185" stroke="#223f67" stroke-width="0.7"/>
<line x1="422.00" y1="263.40" x2="422.00" y2="267.30" stroke="#151515" stroke-width="1.05"/>
<line x1="420.40" y1="263.40" x2="423.60" y2="263.40" stroke="#151515" stroke-width="1.0"/>
<rect x="425.75" y="219.45" width="4.50" height="64.45" fill="#A8002E" stroke="#830023" stroke-width="0.7"/>
<line x1="428.00" y1="200.70" x2="428.00" y2="219.10" stroke="#151515" stroke-width="1.05"/>
<line x1="426.40" y1="200.70" x2="429.60" y2="200.70" stroke="#151515" stroke-width="1.0"/>
<rect x="431.75" y="228.35" width="4.50" height="55.55" fill="#68AD45" stroke="#518635" stroke-width="0.7"/>
<line x1="434.00" y1="219.75" x2="434.00" y2="228.00" stroke="#151515" stroke-width="1.05"/>
<line x1="432.40" y1="219.75" x2="435.60" y2="219.75" stroke="#151515" stroke-width="1.0"/>
<rect x="437.75" y="217.15" width="4.50" height="66.75" fill="#55266A" stroke="#421d52" stroke-width="0.7"/>
<line x1="440.00" y1="209.00" x2="440.00" y2="216.80" stroke="#151515" stroke-width="1.05"/>
<line x1="438.40" y1="209.00" x2="441.60" y2="209.00" stroke="#151515" stroke-width="1.0"/>
<rect x="443.75" y="256.35" width="4.50" height="27.55" fill="#9088C6" stroke="#706a9a" stroke-width="0.7"/>
<line x1="446.00" y1="243.50" x2="446.00" y2="256.00" stroke="#151515" stroke-width="1.05"/>
<line x1="444.40" y1="243.50" x2="447.60" y2="243.50" stroke="#151515" stroke-width="1.0"/>
<rect x="449.75" y="214.65" width="4.50" height="69.25" fill="#AD6A24" stroke="#86521c" stroke-width="0.7"/>
<line x1="452.00" y1="206.90" x2="452.00" y2="214.30" stroke="#151515" stroke-width="1.05"/>
<line x1="450.40" y1="206.90" x2="453.60" y2="206.90" stroke="#151515" stroke-width="1.0"/>
<rect x="455.75" y="253.65" width="4.50" height="30.25" fill="#B8D698" stroke="#8fa676" stroke-width="0.7"/>
<line x1="458.00" y1="247.80" x2="458.00" y2="253.30" stroke="#151515" stroke-width="1.05"/>
<line x1="456.40" y1="247.80" x2="459.60" y2="247.80" stroke="#151515" stroke-width="1.0"/>
<line x1="440.00" y1="283.90" x2="440.00" y2="286.70" stroke="#111" stroke-width="1"/>
<text x="440.30" y="297.30" font-size="8.0" text-anchor="middle" font-weight="normal" fill="#333" stroke="#333" stroke-width="0.28">2</text>
<rect x="467.25" y="255.45" width="4.50" height="28.45" fill="#2C5185" stroke="#223f67" stroke-width="0.7"/>
<line x1="469.50" y1="245.80" x2="469.50" y2="255.10" stroke="#151515" stroke-width="1.05"/>
<line x1="467.90" y1="245.80" x2="471.10" y2="245.80" stroke="#151515" stroke-width="1.0"/>
<rect x="473.25" y="188.75" width="4.50" height="95.15" fill="#A8002E" stroke="#830023" stroke-width="0.7"/>
<line x1="475.50" y1="178.40" x2="475.50" y2="188.40" stroke="#151515" stroke-width="1.05"/>
<line x1="473.90" y1="178.40" x2="477.10" y2="178.40" stroke="#151515" stroke-width="1.0"/>
<rect x="479.25" y="200.65" width="4.50" height="83.25" fill="#68AD45" stroke="#518635" stroke-width="0.7"/>
<line x1="481.50" y1="191.00" x2="481.50" y2="200.30" stroke="#151515" stroke-width="1.05"/>
<line x1="479.90" y1="191.00" x2="483.10" y2="191.00" stroke="#151515" stroke-width="1.0"/>
<rect x="485.25" y="208.05" width="4.50" height="75.85" fill="#55266A" stroke="#421d52" stroke-width="0.7"/>
<line x1="487.50" y1="195.60" x2="487.50" y2="207.70" stroke="#151515" stroke-width="1.05"/>
<line x1="485.90" y1="195.60" x2="489.10" y2="195.60" stroke="#151515" stroke-width="1.0"/>
<rect x="491.25" y="249.65" width="4.50" height="34.25" fill="#9088C6" stroke="#706a9a" stroke-width="0.7"/>
<line x1="493.50" y1="239.30" x2="493.50" y2="249.30" stroke="#151515" stroke-width="1.05"/>
<line x1="491.90" y1="239.30" x2="495.10" y2="239.30" stroke="#151515" stroke-width="1.0"/>
<rect x="497.25" y="193.65" width="4.50" height="90.25" fill="#AD6A24" stroke="#86521c" stroke-width="0.7"/>
<line x1="499.50" y1="179.80" x2="499.50" y2="193.30" stroke="#151515" stroke-width="1.05"/>
<line x1="497.90" y1="179.80" x2="501.10" y2="179.80" stroke="#151515" stroke-width="1.0"/>
<rect x="503.25" y="249.85" width="4.50" height="34.05" fill="#B8D698" stroke="#8fa676" stroke-width="0.7"/>
<line x1="505.50" y1="243.50" x2="505.50" y2="249.50" stroke="#151515" stroke-width="1.05"/>
<line x1="503.90" y1="243.50" x2="507.10" y2="243.50" stroke="#151515" stroke-width="1.0"/>
<line x1="487.50" y1="283.90" x2="487.50" y2="286.70" stroke="#111" stroke-width="1"/>
<text x="487.80" y="297.30" font-size="8.0" text-anchor="middle" font-weight="normal" fill="#333" stroke="#333" stroke-width="0.28">4</text>
<text x="416.80" y="310.40" font-size="9.6" text-anchor="middle" font-weight="normal" fill="#2a2a2a" textLength="30.00" lengthAdjust="spacingAndGlyphs" stroke="#2a2a2a" stroke-width="0.25">E : T ratio</text>
<line x1="374.60" y1="259.4" x2="374.60" y2="265.2" stroke="#2a2a2a" stroke-width="0.75" opacity="0.85"/>
<ellipse cx="374.60" cy="260.8" rx="1.5" ry="0.7" fill="#2a2a2a"/>
<circle cx="398.20" cy="240.4" r="1.05" fill="#2a2a2a"/>
<line x1="422.00" y1="252.60" x2="422.00" y2="259.40" stroke="#333333" stroke-width="0.7" opacity="0.8"/>
<ellipse cx="422.00" cy="254.50" rx="2.05" ry="0.65" fill="#333333"/>
<ellipse cx="422.00" cy="257.50" rx="2.05" ry="0.65" fill="#333333"/>
<line x1="446.00" y1="234.35" x2="446.00" y2="241.15" stroke="#333333" stroke-width="0.7" opacity="0.8"/>
<ellipse cx="446.00" cy="236.25" rx="2.05" ry="0.65" fill="#333333"/>
<ellipse cx="446.00" cy="239.25" rx="2.05" ry="0.65" fill="#333333"/>
<line x1="458.00" y1="237.50" x2="458.00" y2="244.30" stroke="#333333" stroke-width="0.7" opacity="0.8"/>
<ellipse cx="458.00" cy="239.40" rx="2.05" ry="0.65" fill="#333333"/>
<ellipse cx="458.00" cy="242.40" rx="2.05" ry="0.65" fill="#333333"/>
<line x1="469.70" y1="235.30" x2="469.70" y2="242.10" stroke="#333333" stroke-width="0.7" opacity="0.8"/>
<ellipse cx="469.70" cy="237.20" rx="2.05" ry="0.65" fill="#333333"/>
<ellipse cx="469.70" cy="240.20" rx="2.05" ry="0.65" fill="#333333"/>
<line x1="493.50" y1="228.30" x2="493.50" y2="235.10" stroke="#333333" stroke-width="0.7" opacity="0.8"/>
<ellipse cx="493.50" cy="230.20" rx="2.05" ry="0.65" fill="#333333"/>
<ellipse cx="493.50" cy="233.20" rx="2.05" ry="0.65" fill="#333333"/>
<line x1="505.50" y1="233.60" x2="505.50" y2="240.40" stroke="#333333" stroke-width="0.7" opacity="0.8"/>
<ellipse cx="505.50" cy="235.50" rx="2.05" ry="0.65" fill="#333333"/>
<ellipse cx="505.50" cy="238.50" rx="2.05" ry="0.65" fill="#333333"/>
<rect x="325.80" y="166.00" width="7.20" height="6.60" fill="#2C5185" />
<text x="335.90" y="172.30" font-size="8.6" text-anchor="start" font-weight="normal" fill="#2a2a2a" textLength="17.80" lengthAdjust="spacingAndGlyphs" stroke="#2a2a2a" stroke-width="0.22">mock</text>
<rect x="325.80" y="177.60" width="7.20" height="6.60" fill="#A8002E" />
<text x="335.90" y="183.90" font-size="8.6" text-anchor="start" font-weight="normal" fill="#2a2a2a" textLength="10.40" lengthAdjust="spacingAndGlyphs" stroke="#2a2a2a" stroke-width="0.22">WT</text>
<rect x="325.80" y="189.20" width="7.20" height="6.60" fill="#68AD45" />
<text x="335.90" y="195.50" font-size="8.6" text-anchor="start" font-weight="normal" fill="#2a2a2a" textLength="49.00" lengthAdjust="spacingAndGlyphs" stroke="#2a2a2a" stroke-width="0.22">c.175G&gt;A (V1)</text>
<rect x="325.80" y="200.80" width="7.20" height="6.60" fill="#55266A" />
<text x="335.90" y="207.10" font-size="8.6" text-anchor="start" font-weight="normal" fill="#2a2a2a" textLength="49.00" lengthAdjust="spacingAndGlyphs" stroke="#2a2a2a" stroke-width="0.22">c.767G&gt;A (V2)</text>
<rect x="395.20" y="166.00" width="7.20" height="6.60" fill="#9088C6" />
<text x="405.50" y="172.30" font-size="8.6" text-anchor="start" font-weight="normal" fill="#2a2a2a" textLength="52.30" lengthAdjust="spacingAndGlyphs" stroke="#2a2a2a" stroke-width="0.22">c.1240C&gt;T (V5)</text>
<rect x="395.20" y="177.60" width="7.20" height="6.60" fill="#AD6A24" />
<text x="405.50" y="183.90" font-size="8.6" text-anchor="start" font-weight="normal" fill="#2a2a2a" textLength="52.70" lengthAdjust="spacingAndGlyphs" stroke="#2a2a2a" stroke-width="0.22">c.2180A&gt;G (V9)</text>
<rect x="395.20" y="189.20" width="7.20" height="6.60" fill="#B8D698" />
<text x="405.50" y="195.50" font-size="8.6" text-anchor="start" font-weight="normal" fill="#2a2a2a" textLength="58.00" lengthAdjust="spacingAndGlyphs" stroke="#2a2a2a" stroke-width="0.22">c.2759A&gt;G (V13)</text>
<line x1="59.60" y1="33.00" x2="59.60" y2="114.90" stroke="#0a0a0a" stroke-width="1.4"/>
<line x1="56.20" y1="114.40" x2="249.20" y2="114.40" stroke="#0a0a0a" stroke-width="1.4"/>
<line x1="316.20" y1="28.80" x2="316.20" y2="114.80" stroke="#0a0a0a" stroke-width="1.4"/>
<line x1="313.20" y1="114.30" x2="505.50" y2="114.30" stroke="#0a0a0a" stroke-width="1.4"/>
<line x1="59.70" y1="210.20" x2="59.70" y2="284.30" stroke="#0a0a0a" stroke-width="1.4"/>
<line x1="56.40" y1="283.80" x2="135.40" y2="283.80" stroke="#0a0a0a" stroke-width="1.4"/>
<line x1="192.00" y1="209.30" x2="192.00" y2="284.50" stroke="#0a0a0a" stroke-width="1.4"/>
<line x1="188.80" y1="284.00" x2="269.20" y2="284.00" stroke="#0a0a0a" stroke-width="1.4"/>
<line x1="320.10" y1="165.00" x2="320.10" y2="284.40" stroke="#0a0a0a" stroke-width="1.4"/>
<line x1="317.20" y1="283.90" x2="513.00" y2="283.90" stroke="#0a0a0a" stroke-width="1.4"/>
<rect x="0.6" y="0.6" width="518.8" height="318.8" fill="none" stroke="#000" stroke-width="1.4"/>
</svg>
</body></html>
